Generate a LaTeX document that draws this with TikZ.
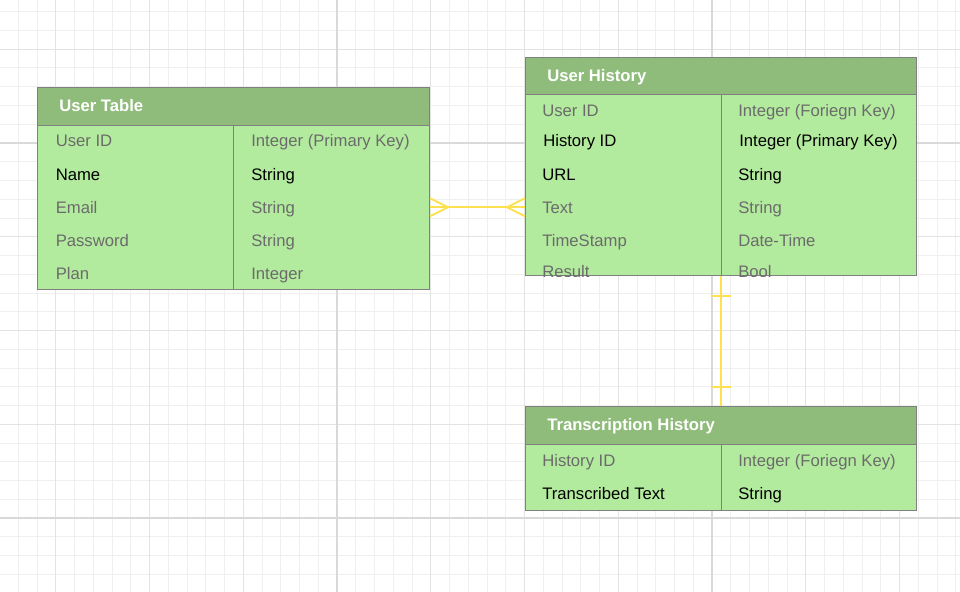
\documentclass[tikz,border=0pt]{standalone}
\usepackage{fontspec}
\setmainfont{Liberation Sans}
\usetikzlibrary{calc}
\definecolor{hdr}{HTML}{8FBC7B}
\definecolor{bodyc}{HTML}{B3EB9E}
\definecolor{bord}{HTML}{808080}
\definecolor{txtgray}{HTML}{6B6B6B}
\definecolor{yel}{HTML}{FFE150}
\definecolor{gminorc}{HTML}{EFEFEF}
\definecolor{gmedc}{HTML}{E3E3E3}
\definecolor{gmajc}{HTML}{D9D9D9}
\begin{document}
\begin{tikzpicture}[x=0.75pt,y=-0.75pt,
  gminor/.style={draw=gminorc,line width=0.75pt},
  gmed/.style={draw=gmedc,line width=0.75pt},
  gmaj/.style={draw=gmajc,line width=1.5pt},
  hdrbox/.style={draw=bord,fill=hdr,line width=0.75pt,rectangle,inner sep=0,anchor=north west},
  bodybox/.style={draw=bord,fill=bodyc,line width=0.75pt,rectangle,inner sep=0,anchor=north west},
  divline/.style={draw=bord,line width=0.75pt},
  gtext/.style={anchor=base west,inner sep=0,text=txtgray,font=\fontsize{12.5pt}{15pt}\selectfont},
  btext/.style={anchor=base west,inner sep=0,text=black,font=\fontsize{12.5pt}{15pt}\selectfont},
  htext/.style={anchor=base west,inner sep=0,text=white,font=\fontsize{12.5pt}{15pt}\selectfont\bfseries},
  conn/.style={draw=yel,line width=1.5pt}]
\useasboundingbox (0,0) rectangle (960,592);
\fill[white] (0,0) rectangle (960,592);
% grid
\foreach \i in {0,...,51} {\draw[gminor] ({-0.5+18.75*\i},0) -- ({-0.5+18.75*\i},592);}
\foreach \i in {0,...,31} {\draw[gminor] (0,{11.75+18.75*\i}) -- (960,{11.75+18.75*\i});}
\foreach \i in {0,...,9} {\draw[gmed] ({55.75+93.75*\i},0) -- ({55.75+93.75*\i},592);}
\foreach \i in {0,...,5} {\draw[gmed] (0,{49.25+93.75*\i}) -- (960,{49.25+93.75*\i});}
\foreach \v in {337,712} {\draw[gmaj] (\v,0) -- (\v,592);}
\foreach \v in {143,518} {\draw[gmaj] (0,\v) -- (960,\v);}

% User Table
\node[bodybox,minimum width=294pt,minimum height=123.375pt] (utbody) at (37,124.5) {};
\node[hdrbox,minimum width=294pt,minimum height=28.125pt] (uthead) at (37,87) {};
\draw[divline] ($(utbody.north west)+(196,0)$) -- ($(utbody.south west)+(196,0)$);
\node[htext] (utt) at (59,111.7) {User Table};
\node[gtext] (ut1a) at (55.5,146.5) {User ID};
\node[gtext] (ut1b) at (251,146.5) {Integer (Primary Key)};
\node[btext] (ut2a) at (55.5,180) {Name};
\node[btext] (ut2b) at (251,180) {String};
\node[gtext] (ut3a) at (55.5,213.2) {Email};
\node[gtext] (ut3b) at (251,213.2) {String};
\node[gtext] (ut4a) at (55.5,246.2) {Password};
\node[gtext] (ut4b) at (251,246.2) {String};
\node[gtext] (ut5a) at (55.5,279) {Plan};
\node[gtext] (ut5b) at (251,279) {Integer};

% User History
\node[bodybox,minimum width=293.25pt,minimum height=135.375pt] (uhbody) at (525,94.5) {};
\node[hdrbox,minimum width=293.25pt,minimum height=28.125pt] (uhhead) at (525,57) {};
\draw[divline] (uhbody.north) -- (uhbody.south);
\node[htext] (uht) at (547,81.7) {User History};
\begin{scope}
\clip (uhbody.north west) rectangle (uhbody.south east);
\node[gtext] (uh1a) at (542,116.7) {User ID};
\node[gtext] (uh1b) at (738,116.7) {Integer (Foriegn Key)};
\node[btext] (uh2a) at (543,146.5) {History ID};
\node[btext] (uh2b) at (739,146.5) {Integer (Primary Key)};
\node[btext] (uh3a) at (542,180) {URL};
\node[btext] (uh3b) at (738,180) {String};
\node[gtext] (uh4a) at (542,213.2) {Text};
\node[gtext] (uh4b) at (738,213.2) {String};
\node[gtext] (uh5a) at (542,246) {TimeStamp};
\node[gtext] (uh5b) at (738,246) {Date-Time};
\node[gtext] (uh6a) at (542,277) {Result};
\node[gtext] (uh6b) at (738,277) {Bool};
\end{scope}

% Transcription History
\node[bodybox,minimum width=293.25pt,minimum height=49.5pt] (thbody) at (525,443.5) {};
\node[hdrbox,minimum width=293.25pt,minimum height=28.125pt] (thhead) at (525,406) {};
\draw[divline] (thbody.north) -- (thbody.south);
\node[htext] (tht) at (547,430.5) {Transcription History};
\node[gtext] (th1a) at (542,466.2) {History ID};
\node[gtext] (th1b) at (738,466.2) {Integer (Foriegn Key)};
\node[btext] (th2a) at (542,499.5) {Transcribed Text};
\node[btext] (th2b) at (738,499.5) {String};

% connectors
\coordinate (uhw) at (utbody.east -| uhbody.west);
\draw[conn] (utbody.east) -- (uhw);
\draw[conn] ($(utbody.east)+(0,-9)$) -- ($(utbody.east)+(18,0)$) -- ($(utbody.east)+(0,9)$);
\draw[conn] ($(uhw)+(0,-9)$) -- ($(uhw)+(-18,0)$) -- ($(uhw)+(0,9)$);
\draw[conn] (uhbody.south) -- (thhead.north);
\draw[conn] ($(uhbody.south)+(-9.5,20)$) -- ++(19,0);
\draw[conn] ($(thhead.north)+(-9.5,-19.5)$) -- ++(19,0);
\end{tikzpicture}
\end{document}
